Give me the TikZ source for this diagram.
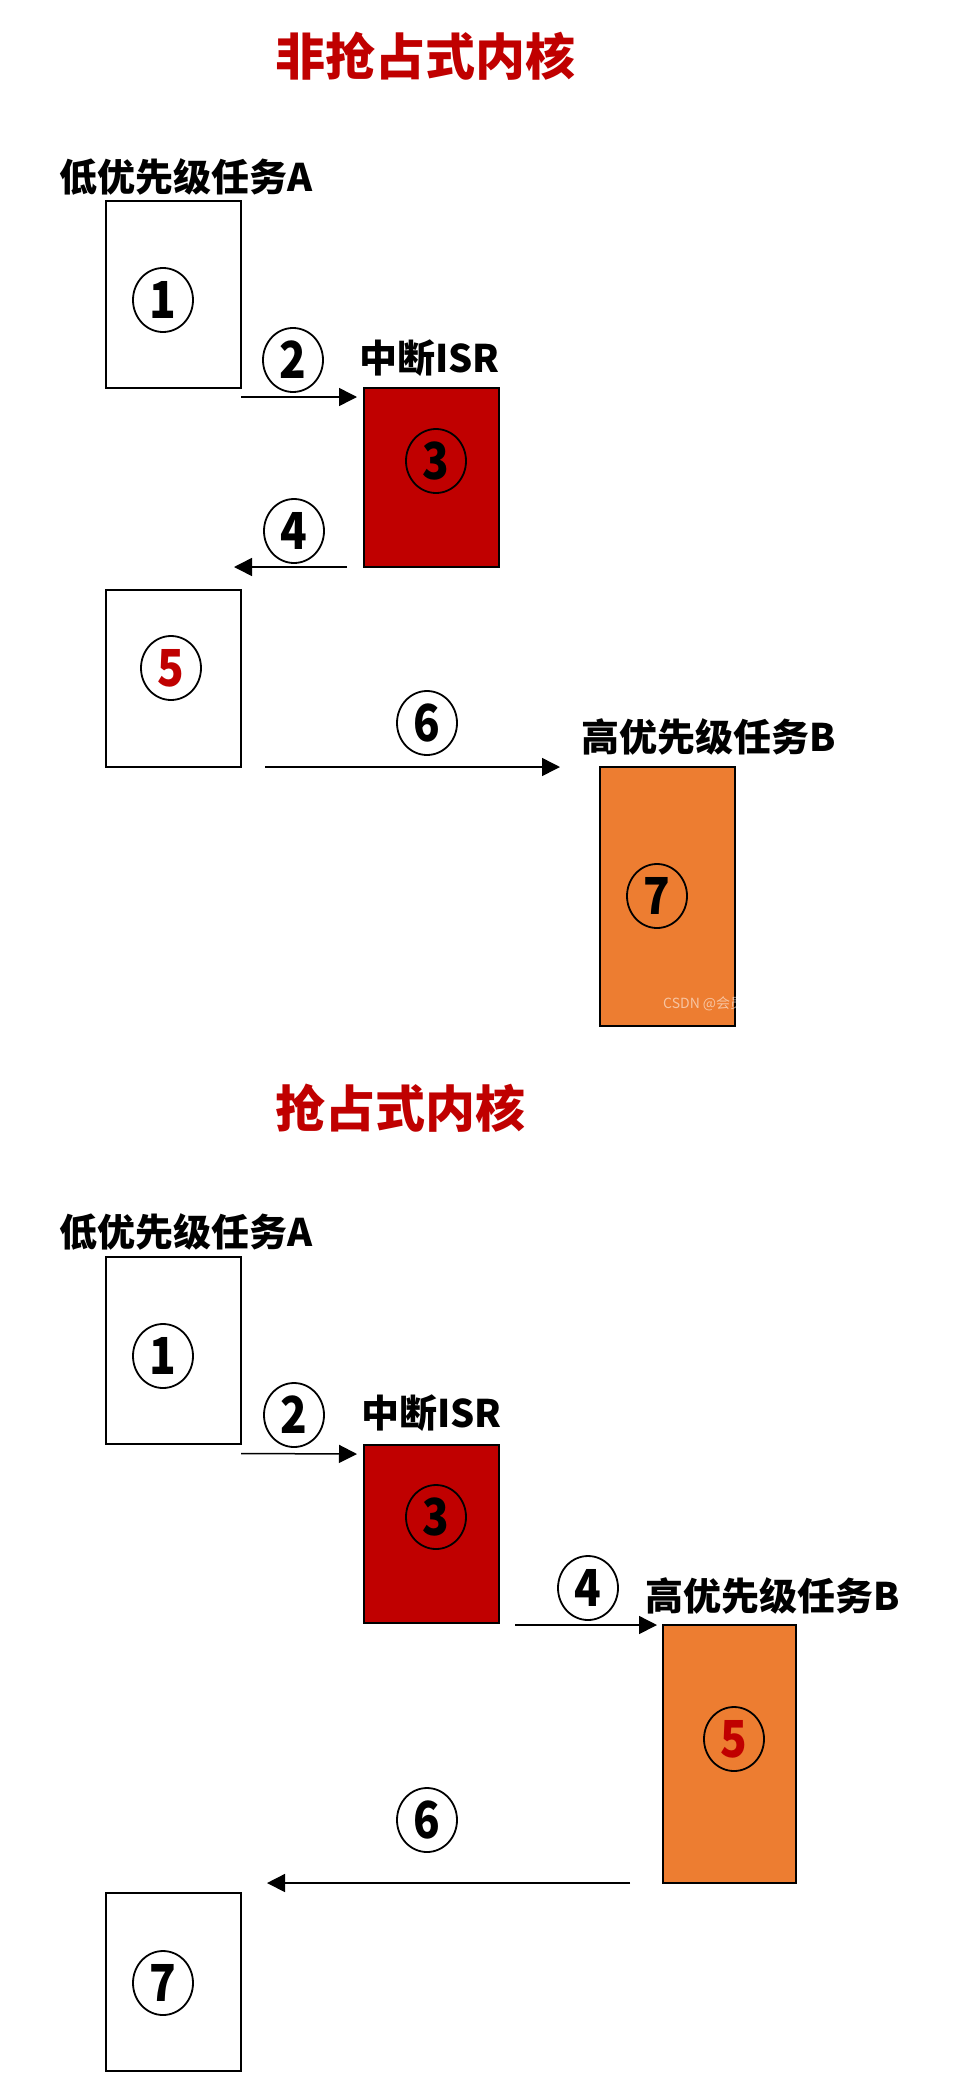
\documentclass[tikz,border=0pt]{standalone}
\usepackage{fontspec}
\newfontfamily\cjk{Noto Sans CJK SC}
\usetikzlibrary{arrows.meta,shapes.geometric}
\definecolor{isrred}{HTML}{C00000}
\definecolor{taskorange}{HTML}{ED7D31}
\newcommand{\dg}[1]{\scalebox{0.86}[1]{#1}}
\begin{document}
\begin{tikzpicture}[x=1pt,y=-1pt,
  task/.style={draw=black, line width=2.2pt, anchor=north west, inner sep=0pt, outer sep=0pt, minimum width=135pt},
  circ/.style={ellipse, draw=black, line width=1.8pt, minimum width=60pt, minimum height=64pt, inner sep=0pt,
    font=\cjk\bfseries\fontsize{51}{51}\selectfont},
  lbl/.style={anchor=west, inner sep=0pt, font=\cjk\bfseries\fontsize{38}{38}\selectfont},
  ttl/.style={anchor=west, inner sep=0pt, text=isrred, font=\cjk\bfseries\fontsize{50}{50}\selectfont},
  arr/.style={line width=1.5pt, -{Triangle[length=18pt,width=18pt]}},
  wm/.style={anchor=west, inner sep=0pt, text=white, text opacity=0.55, font=\cjk\fontsize{14}{14}\selectfont}
]
\fill[white] (0,0) rectangle (970,2090);
\useasboundingbox (0,0) rectangle (970,2090);

% ---------- non-preemptive kernel ----------
\node[ttl] (t1) at (275,56) {非抢占式内核};
\node[lbl] (la1) at (59,177) {低优先级任务A};
\node[task, minimum height=187pt] (b1) at (106,201) {};
\node[circ] (c1) at (163,300) {\dg{1}};
\node[circ] (c2) at (293,360) {\dg{2}};
\node[lbl] (li1) at (359,358) {中断ISR};
\node[task, fill=isrred, minimum height=179pt] (b3) at (364,388) {};
\node[circ] (c3) at (436,461) {\dg{3}};
\node[circ] (c4) at (294,531) {\dg{4}};
\node[task, minimum height=177pt] (b5) at (106,590) {};
\node[circ, text=isrred] (c5) at (171,668) {\dg{5}};
\node[circ] (c6) at (427,723) {\dg{6}};
\node[lbl] (lb1) at (581,737) {高优先级任务B};
\node[task, fill=taskorange, minimum height=259pt] (b7) at (600,767) {};
\node[circ] (c7) at (657,896) {\dg{7}};
\begin{scope}
  \clip (b7.north west) rectangle (b7.south east);
  \node[wm] (w1) at (663,1004) {CSDN @会员};
\end{scope}

\draw[arr] ([yshift=-9pt]b1.south east) -- ([yshift=-9pt,xshift=-7pt]b3.north west);
\draw[arr] ([xshift=-17pt]b3.south west) -- ([xshift=-7pt]b1.east |- b3.south);
\draw[arr] ([xshift=24pt]b5.south east) -- ([xshift=-40pt]b7.north west);

% ---------- preemptive kernel ----------
\node[ttl] (t2) at (275,1108) {抢占式内核};
\node[lbl] (la2) at (59,1232) {低优先级任务A};
\node[task, minimum height=187pt] (B1) at (106,1257) {};
\node[circ] (C1) at (163,1356) {\dg{1}};
\node[circ] (C2) at (294,1415) {\dg{2}};
\node[lbl] (li2) at (361,1413) {中断ISR};
\node[task, fill=isrred, minimum height=178pt] (B3) at (364,1445) {};
\node[circ] (C3) at (436,1517) {\dg{3}};
\node[circ] (C4) at (588,1588) {\dg{4}};
\node[lbl] (lb2) at (645,1596) {高优先级任务B};
\node[task, fill=taskorange, minimum width=133pt, minimum height=258pt] (B5) at (663,1625) {};
\node[circ, text=isrred] (C5) at (734,1739) {\dg{5}};
\node[circ] (C6) at (427,1820) {\dg{6}};
\node[task, minimum height=178pt] (B7) at (106,1893) {};
\node[circ] (C7) at (163,1983) {\dg{7}};

\draw[arr] ([yshift=-9.5pt]B1.south east) -- ([yshift=-9pt,xshift=-7pt]B3.north west);
\draw[arr] ([xshift=16pt]B3.east |- B5.north) -- ([xshift=-6pt]B5.north west);
\draw[arr] ([xshift=-33pt]B5.south west) -- ([xshift=26pt]B7.east |- B5.south);
\end{tikzpicture}
\end{document}
